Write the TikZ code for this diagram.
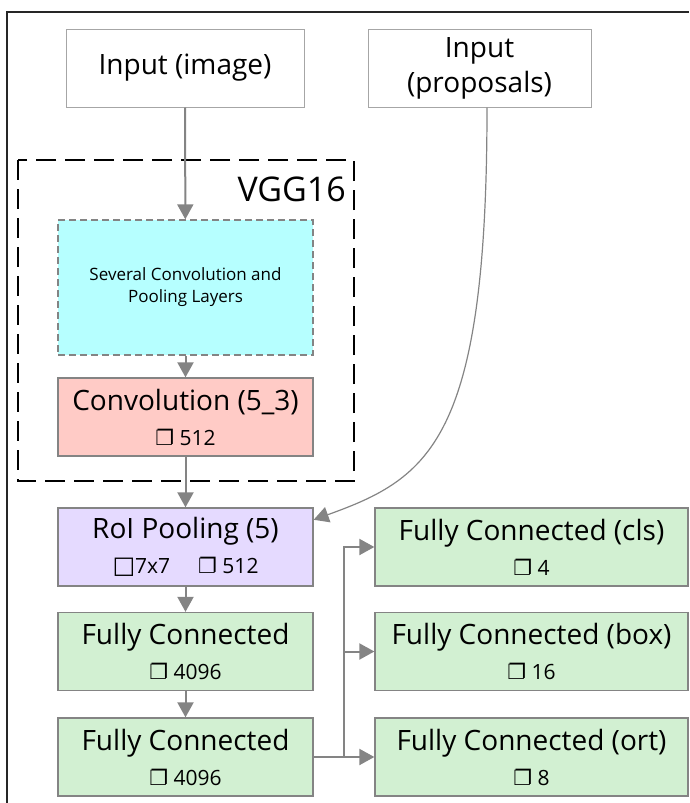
\documentclass[tikz,border=0pt]{standalone}
\usepackage{fontspec}
\setmainfont{Open Sans}
\newfontfamily\symfont{DejaVu Sans}
\usetikzlibrary{arrows.meta}

\definecolor{layercyan}{HTML}{B6FFFF}
\definecolor{layerpink}{HTML}{FFCBC6}
\definecolor{layerlilac}{HTML}{E5DAFF}
\definecolor{layergreen}{HTML}{D2F0D2}
\definecolor{edgegray}{HTML}{848484}

% channel counts
\newcommand{\chan}[1]{{\fontsize{21}{24}\selectfont{\symfont ❐}~#1}}
\newcommand{\grid}[1]{{\fontsize{21}{24}\selectfont{\symfont\fontsize{24}{24}\selectfont □}#1}}

\begin{document}
\begin{tikzpicture}[x=1pt, y=-1pt,
    layer/.style={draw=edgegray, line width=1.3pt, minimum width=255pt, minimum height=78pt,
      inner sep=0pt, align=center, font=\fontsize{28}{35}\selectfont},
    inbox/.style={layer, draw=gray!70, fill=white, line width=1pt},
    headbox/.style={layer, minimum width=313pt, fill=layergreen},
    link/.style={draw=edgegray, line width=2pt, -{Triangle[width=16pt,length=15pt]}}]
    \useasboundingbox (0,0) rectangle (689,803);

    % Frame
    \draw[line width=1.5pt, black!85] (7,803) -- (7,12) -- (689,12);

    % Inputs
    \node[inbox, minimum width=238pt] (img) at (185,68) {Input (image)};
    \node[inbox, minimum width=223pt] (prop) at (479.5,68) {Input\\(proposals)};

    % VGG16 block
    \draw[line width=1.5pt, dash pattern=on 20pt off 9pt] (18,160) rectangle (354,481);
    \node[anchor=base east, font=\fontsize{34}{36}\selectfont, inner sep=0pt] (vgg) at (346,201) {VGG16};
    \node[layer, fill=layercyan, dash pattern=on 7pt off 4pt, minimum height=135pt,
      font=\fontsize{17}{22}\selectfont] (convs) at (185.5,287.5) {Several Convolution and\\Pooling Layers};
    \node[layer, fill=layerpink] (conv) at (185.5,417) {Convolution (5\_3)\\\chan{512}};

    % Main column
    \node[layer, fill=layerlilac] (roi) at (185.5,547) {RoI Pooling (5)\\\grid{7x7}\quad\chan{512}};
    \node[layer, fill=layergreen] (fc1) at (185.5,651.5) {Fully Connected\\\chan{4096}};
    \node[layer, fill=layergreen] (fc2) at (185.5,757) {Fully Connected\\\chan{4096}};

    % Heads
    \node[headbox] (cls) at (531.5,547) {Fully Connected (cls)\\\chan{4}};
    \node[headbox] (box) at (531.5,651.5) {Fully Connected (box)\\\chan{16}};
    \node[headbox] (ort) at (531.5,757) {Fully Connected (ort)\\\chan{8}};

    % Connections
    \draw[link] (img) -- (convs);
    \draw[link] (convs) -- (conv);
    \draw[link] (conv) -- (roi);
    \draw[link] (roi) -- (fc1);
    \draw[link] (fc1) -- (fc2);
    \draw[link, line width=1.2pt] (prop.south -| 487,0) .. controls (487,440) and (430,478) .. (roi.12);
    \coordinate (split) at (343.5,757);
    \draw[link] (fc2) -- (ort);
    \draw[link] (split) |- (box);
    \draw[link] (split) |- (cls);
  \end{tikzpicture}
\end{document}
